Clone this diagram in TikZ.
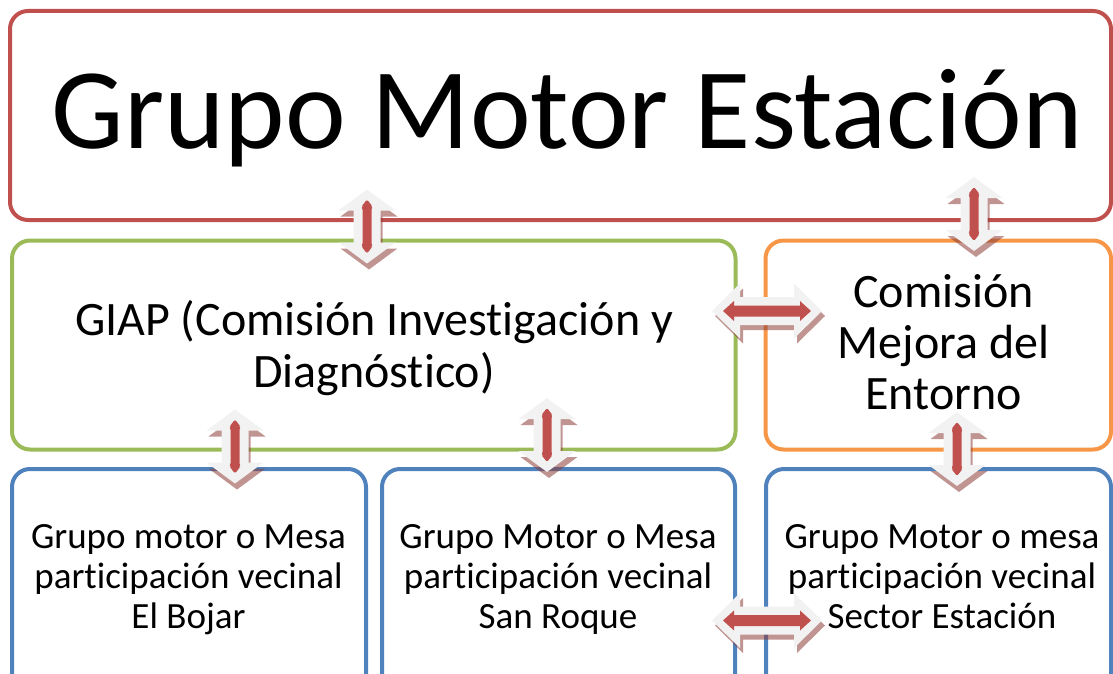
\documentclass[tikz,border=0pt]{standalone}
\usepackage{fontspec}
\setmainfont{Carlito}[Ligatures=NoCommon]
\definecolor{boxred}{HTML}{C0504D}
\definecolor{boxgreen}{HTML}{9BBB59}
\definecolor{boxorange}{HTML}{F79646}
\definecolor{boxblue}{HTML}{4F81BD}
\definecolor{arrowface}{HTML}{F2F2F2}
\definecolor{shadowcol}{RGB}{140,60,55}
\tikzset{
  box/.style={draw, line width=4pt, rounded corners=18pt, inner sep=0pt,
    outer sep=0pt, anchor=north west, fill=none},
  txt/.style={anchor=base, align=center, inner sep=0pt, text=black},
  varrow/.pic={
    \fill[shadowcol, opacity=0.55, shift={(2,6)}]
      (0,-37) -- (28.5,-16) -- (13.5,-16) -- (13.5,16) -- (28.5,16) -- (0,37)
      -- (-28.5,16) -- (-13.5,16) -- (-13.5,-16) -- (-28.5,-16) -- cycle;
    \fill[arrowface]
      (0,-37) -- (28.5,-16) -- (13.5,-16) -- (13.5,16) -- (28.5,16) -- (0,37)
      -- (-28.5,16) -- (-13.5,16) -- (-13.5,-16) -- (-28.5,-16) -- cycle;
    \fill[boxred, rounded corners=1.5pt]
      (0,-27) -- (5.5,-20) -- (4.5,-18) -- (4.5,18) -- (5.5,20) -- (0,27)
      -- (-5.5,20) -- (-4.5,18) -- (-4.5,-18) -- (-5.5,-20) -- cycle;
  },
  harrow/.pic={
    \fill[shadowcol, opacity=0.55, shift={(3,5)}]
      (-55,0) -- (-27,-27.5) -- (-27,-14) -- (27,-14) -- (27,-27.5) -- (55,0)
      -- (27,27.5) -- (27,14) -- (-27,14) -- (-27,27.5) -- cycle;
    \fill[arrowface]
      (-55,0) -- (-27,-27.5) -- (-27,-14) -- (27,-14) -- (27,-27.5) -- (55,0)
      -- (27,27.5) -- (27,14) -- (-27,14) -- (-27,27.5) -- cycle;
    \fill[boxred]
      (-44,0) -- (-33,-10) -- (-33,-5.5) -- (33,-5.5) -- (33,-10) -- (44,0)
      -- (33,10) -- (33,5.5) -- (-33,5.5) -- (-33,10) -- cycle;
  }
}
\begin{document}
\begin{tikzpicture}[x=1pt, y=-1pt]
  \useasboundingbox (0,0) rectangle (1113,674);
  \clip (0,0) rectangle (1113,674);
  % boxes
  \node[box, draw=boxred, minimum width=1101pt, minimum height=209pt] (top) at (10,11) {};
  \node[box, draw=boxgreen, minimum width=723.5pt, minimum height=209pt] (giap) at (12,240.5) {};
  \node[box, draw=boxorange, minimum width=345.5pt, minimum height=209pt] (com) at (765.5,240.5) {};
  \node[box, draw=boxblue, minimum width=354pt, minimum height=260pt] (bl) at (12,469) {};
  \node[box, draw=boxblue, minimum width=353pt, minimum height=260pt] (bm) at (382,469) {};
  \node[box, draw=boxblue, minimum width=345pt, minimum height=260pt] (br) at (766,469) {};
  % texts (anchor = baseline of last line)
  \node[txt, font={\fontsize{115}{115}\selectfont}] (ttop) at (567.5,149) {Grupo Motor Estación};
  \node[txt, font={\fontsize{48}{52}\selectfont}] (tgiap) at (374,387) {GIAP (Comisión Investigación y\\Diagnóstico)};
  \node[txt, font={\fontsize{48}{51}\selectfont}] (tcom) at (943.5,409) {Comisión\\Mejora del\\Entorno};
  \node[txt, font={\fontsize{37}{40}\selectfont}] (tbl) at (188.5,628) {Grupo motor o Mesa\\participación vecinal\\El Bojar};
  \node[txt, font={\fontsize{37}{40}\selectfont}] (tbm) at (558,628) {Grupo Motor o Mesa\\participación vecinal\\San Roque};
  \node[txt, font={\fontsize{37}{40}\selectfont}] (tbr) at (942,628) {Grupo Motor o mesa\\participación vecinal\\Sector Estación};
  % arrows
  \pic (a1) at (367,226.5) {varrow};
  \pic (a2) at (974,214) {varrow};
  \pic (a3) at (235,446.5) {varrow};
  \pic (a4) at (547,435) {varrow};
  \pic (a5) at (957,449) {varrow};
  \pic (h1) at (767,311) {harrow};
  \pic (h2) at (767,620.5) {harrow};
\end{tikzpicture}
\end{document}
